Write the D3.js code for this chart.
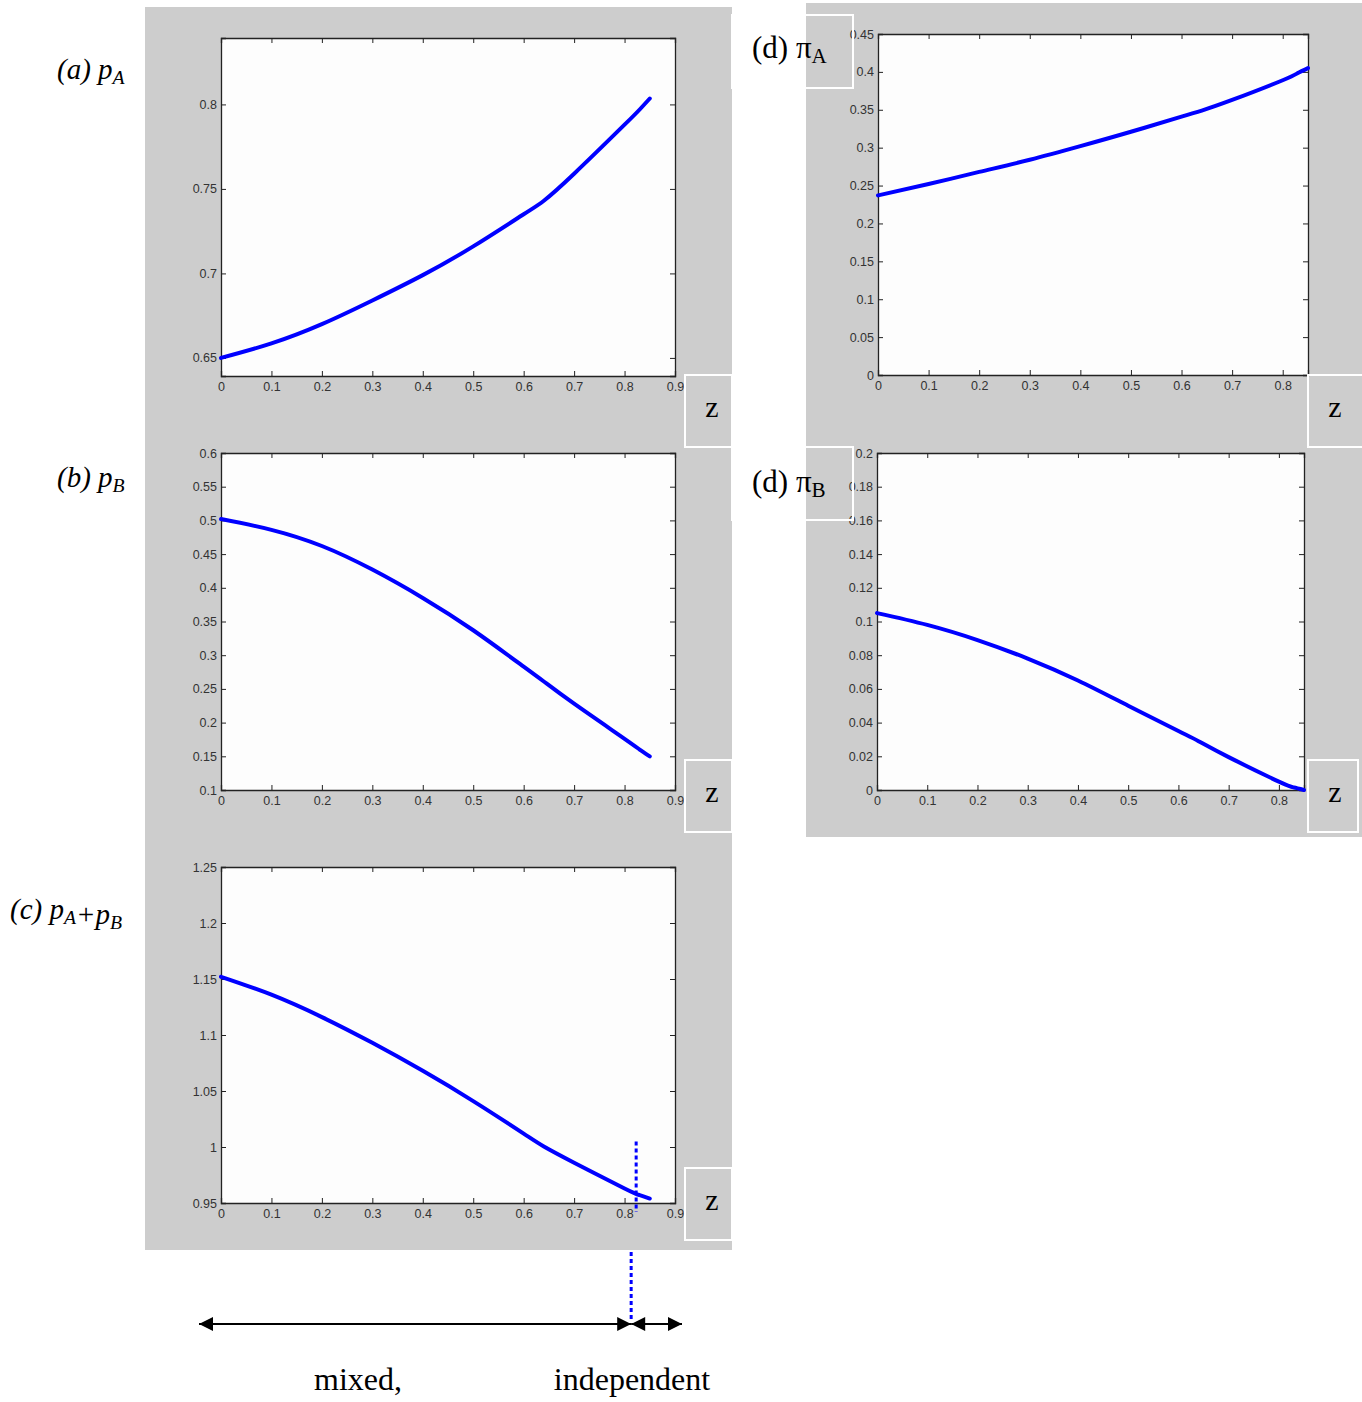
<!DOCTYPE html>
<html>
<head>
<meta charset="utf-8">
<script src="https://cdn.jsdelivr.net/npm/d3@7/dist/d3.min.js"></script>
<style>
  body { margin: 0; background: #ffffff; }
  .tick-label { font-family: "Liberation Sans", Arial, sans-serif; font-size: 12.5px; fill: #333333; }
  .serif { font-family: "Liberation Serif", "Times New Roman", serif; fill: #000000; }
</style>
</head>
<body>
<div id="chart"></div>
<script>
//-----------------------------------------------------------------------
// data

var zValues = [0, 0.1, 0.2, 0.3, 0.4, 0.5, 0.6, 0.64, 0.7, 0.8, 0.83, 0.85];

var pA    = [0.650, 0.6586, 0.670, 0.684, 0.699, 0.716, 0.735, 0.743, 0.759, 0.788, 0.797, 0.8035];
var pB    = [0.502, 0.486, 0.462, 0.427, 0.385, 0.337, 0.283, 0.261, 0.228, 0.176, 0.160, 0.150];
var pSum  = [1.152, 1.136, 1.116, 1.093, 1.068, 1.041, 1.012, 1.0005, 0.986, 0.963, 0.957, 0.954];
var piA   = [0.237, 0.252, 0.268, 0.284, 0.302, 0.321, 0.341, 0.349, 0.363, 0.389, 0.3985, 0.405];
var piB   = [0.105, 0.098, 0.089, 0.078, 0.065, 0.050, 0.035, 0.029, 0.0195, 0.005, 0.0015, 0.000];

var xTicksLeft  = [0, 0.1, 0.2, 0.3, 0.4, 0.5, 0.6, 0.7, 0.8, 0.9];
var xTicksRight = [0, 0.1, 0.2, 0.3, 0.4, 0.5, 0.6, 0.7, 0.8];
var yTicksA   = [0.65, 0.7, 0.75, 0.8];
var yTicksB   = [0.1, 0.15, 0.2, 0.25, 0.3, 0.35, 0.4, 0.45, 0.5, 0.55, 0.6];
var yTicksSum = [0.95, 1, 1.05, 1.1, 1.15, 1.2, 1.25];
var yTicksPiA = [0, 0.05, 0.1, 0.15, 0.2, 0.25, 0.3, 0.35, 0.4, 0.45];
var yTicksPiB = [0, 0.02, 0.04, 0.06, 0.08, 0.1, 0.12, 0.14, 0.16, 0.18, 0.2];

var regimeSwitchZ = 0.823;   // dotted marker in (c)
var regimeLabels = ["mixed,", "independent"];

//-----------------------------------------------------------------------

var W = 1362, H = 1402;
var grey = "#cdcdcd";
var blue = "#0000ff";

var svg = d3.select("#chart").append("svg")
  .attr("width", W).attr("height", H)
  .style("display", "block");

svg.append("rect").attr("width", W).attr("height", H).attr("fill", "#ffffff");

// grey figure backgrounds
svg.append("rect").attr("x", 145).attr("y", 7).attr("width", 587).attr("height", 1243).attr("fill", grey);
svg.append("rect").attr("x", 806).attr("y", 3).attr("width", 556).attr("height", 834).attr("fill", grey);

//-----------------------------------------------------------------------

function drawPanel(p)
{
  var g = svg.append("g");
  var x = d3.scaleLinear().domain(p.xDomain).range([p.left, p.right]);
  var y = d3.scaleLinear().domain(p.yDomain).range([p.bottom, p.top]);

  // plot area
  g.append("rect")
    .attr("x", p.left).attr("y", p.top)
    .attr("width", p.right - p.left).attr("height", p.bottom - p.top)
    .attr("fill", "#fdfdfd");

  var fmt = d3.format("~g");

  // bottom and left axes, ticks pointing inward
  g.append("g").attr("transform", "translate(0," + p.bottom + ")")
    .call(d3.axisBottom(x).tickValues(p.xTicks).tickSize(-5).tickPadding(6).tickFormat(fmt))
    .call(styleAxis);
  g.append("g").attr("transform", "translate(" + p.left + ",0)")
    .call(d3.axisLeft(y).tickValues(p.yTicks).tickSize(-5).tickPadding(4).tickFormat(fmt))
    .call(styleAxis);

  // top and right axes, no labels
  g.append("g").attr("transform", "translate(0," + p.top + ")")
    .call(d3.axisTop(x).tickValues(p.xTicks).tickSize(-5).tickFormat(""))
    .call(styleAxis);
  g.append("g").attr("transform", "translate(" + p.right + ",0)")
    .call(d3.axisRight(y).tickValues(p.yTicks).tickSize(-5).tickFormat(""))
    .call(styleAxis);

  // curve
  var line = d3.line()
    .x(function(d, i) { return x(zValues[i]); })
    .y(function(d) { return y(d); })
    .curve(d3.curveNatural);

  g.append("path")
    .datum(p.values)
    .attr("d", line)
    .attr("fill", "none")
    .attr("stroke", blue)
    .attr("stroke-width", 4)
    .attr("stroke-linecap", "round")
    .attr("stroke-linejoin", "round");

  return { x: x, y: y };
}

function styleAxis(sel)
{
  sel.select(".domain").attr("stroke", "#222222").attr("stroke-width", 1.3);
  sel.selectAll(".tick line").attr("stroke", "#222222");
  sel.selectAll(".tick text").attr("class", "tick-label").attr("fill", null);
}

//-----------------------------------------------------------------------

function zBox(x0, y0, w, h)
{
  svg.append("rect")
    .attr("x", x0).attr("y", y0).attr("width", w).attr("height", h)
    .attr("fill", "none").attr("stroke", "#ffffff").attr("stroke-width", 2);
  svg.append("text")
    .attr("class", "serif")
    .attr("x", x0 + 27).attr("y", y0 + h / 2 + 6)
    .attr("text-anchor", "middle")
    .attr("font-size", 30)
    .text("z");
}

function panelLabel(x0, y0, prefix, parts, italic, size)
{
  var t = svg.append("text")
    .attr("class", "serif")
    .attr("x", x0).attr("y", y0)
    .attr("font-size", size)
    .attr("font-style", italic ? "italic" : "normal");
  t.append("tspan").text(prefix);
  parts.forEach(function(pt) {
    t.append("tspan").text(pt[0]);
    t.append("tspan").attr("font-size", size * 0.68).attr("dy", 5).text(pt[1]);
    t.append("tspan").attr("dy", -5).text("");
  });
  return t;
}

//-----------------------------------------------------------------------
// left column

drawPanel({ left: 221, right: 675, top: 38, bottom: 376,
  xDomain: [0, 0.9], yDomain: [0.6393, 0.8393],
  xTicks: xTicksLeft, yTicks: yTicksA, values: pA });

drawPanel({ left: 221, right: 675, top: 453, bottom: 790,
  xDomain: [0, 0.9], yDomain: [0.1, 0.6],
  xTicks: xTicksLeft, yTicks: yTicksB, values: pB });

var sc = drawPanel({ left: 221, right: 675, top: 867, bottom: 1203,
  xDomain: [0, 0.9], yDomain: [0.95, 1.25],
  xTicks: xTicksLeft, yTicks: yTicksSum, values: pSum });

// right column

drawPanel({ left: 878, right: 1308, top: 34, bottom: 375,
  xDomain: [0, 0.85], yDomain: [0, 0.45],
  xTicks: xTicksRight, yTicks: yTicksPiA, values: piA });

drawPanel({ left: 877, right: 1304, top: 453, bottom: 790,
  xDomain: [0, 0.85], yDomain: [0, 0.2],
  xTicks: xTicksRight, yTicks: yTicksPiB, values: piB });

//-----------------------------------------------------------------------
// z boxes and panel labels

zBox(685, 375, 47, 72);
zBox(685, 760, 47, 72);
zBox(685, 1168, 47, 72);
zBox(1308, 375, 56, 72);
zBox(1308, 760, 50, 72);

// white label boxes on the right column
svg.append("rect").attr("x", 732).attr("y", 15).attr("width", 74).attr("height", 73).attr("fill", "#ffffff");
svg.append("rect").attr("x", 732).attr("y", 15).attr("width", 121).attr("height", 73)
  .attr("fill", "none").attr("stroke", "#ffffff").attr("stroke-width", 2);
svg.append("rect").attr("x", 732).attr("y", 447).attr("width", 74).attr("height", 73).attr("fill", "#ffffff");
svg.append("rect").attr("x", 732).attr("y", 447).attr("width", 121).attr("height", 73)
  .attr("fill", "none").attr("stroke", "#ffffff").attr("stroke-width", 2);

panelLabel(57, 79, "(a) ", [["p", "A"]], true, 29);
panelLabel(57, 487, "(b) ", [["p", "B"]], true, 29);
var lc = panelLabel(10, 919, "(c) ", [["p", "A"]], true, 29);
lc.append("tspan").text("+p");
lc.append("tspan").attr("font-size", 29 * 0.68).attr("dy", 5).text("B");

panelLabel(752, 58, "(d) ", [["\u03c0", "A"]], false, 31);
panelLabel(752, 492, "(d) ", [["\u03c0", "B"]], false, 31);

//-----------------------------------------------------------------------
// regime marker and arrows

var xs = sc.x(regimeSwitchZ);
svg.append("line")
  .attr("x1", xs).attr("x2", xs)
  .attr("y1", sc.y(1.005)).attr("y2", 1212)
  .attr("stroke", blue).attr("stroke-width", 3).attr("stroke-dasharray", "4,3");
svg.append("line")
  .attr("x1", xs - 5).attr("x2", xs - 5)
  .attr("y1", 1252).attr("y2", 1320)
  .attr("stroke", blue).attr("stroke-width", 3).attr("stroke-dasharray", "4,3");

var defs = svg.append("defs");
defs.append("marker")
  .attr("id", "arrow")
  .attr("viewBox", "0 0 10 10")
  .attr("refX", 10).attr("refY", 5)
  .attr("markerWidth", 8).attr("markerHeight", 7)
  .attr("markerUnits", "strokeWidth")
  .attr("orient", "auto-start-reverse")
  .append("path").attr("d", "M0,0 L10,5 L0,10 z").attr("fill", "#000000");

var ay = 1324;
var splitX = xs - 5;
svg.append("line")
  .attr("x1", 199).attr("x2", splitX).attr("y1", ay).attr("y2", ay)
  .attr("stroke", "#000000").attr("stroke-width", 2)
  .attr("marker-start", "url(#arrow)").attr("marker-end", "url(#arrow)");
svg.append("line")
  .attr("x1", splitX).attr("x2", 682).attr("y1", ay).attr("y2", ay)
  .attr("stroke", "#000000").attr("stroke-width", 2)
  .attr("marker-start", "url(#arrow)").attr("marker-end", "url(#arrow)");

svg.append("text").attr("class", "serif")
  .attr("x", 358).attr("y", 1390).attr("text-anchor", "middle")
  .attr("font-size", 32).text(regimeLabels[0]);
svg.append("text").attr("class", "serif")
  .attr("x", 632).attr("y", 1390).attr("text-anchor", "middle")
  .attr("font-size", 32).text(regimeLabels[1]);
</script>
</body>
</html>
